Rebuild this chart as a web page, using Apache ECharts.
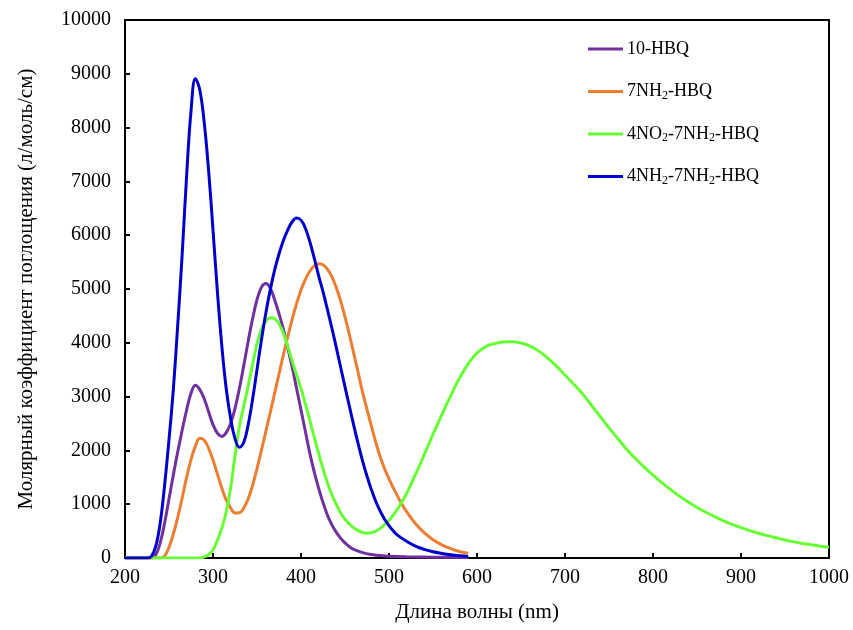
<!DOCTYPE html>
<html>
<head>
<meta charset="utf-8">
<script src="https://cdn.jsdelivr.net/npm/echarts@6/dist/echarts.min.js"></script>
<style>
html,body{margin:0;padding:0;background:#fff;}
#chart{width:853px;height:630px;}
</style>
</head>
<body>
<div id="chart"></div>
<script>
// ---- Data ----
const seriesNames = ['10-HBQ', '7NH\u2082-HBQ', '4NO\u2082-7NH\u2082-HBQ', '4NH\u2082-7NH\u2082-HBQ'];

const hbqX = [200,225,230,235,240,245,250,255,260,265,270,275,280,285,290,295,300,305,310,315,320,325,330,335,340,345,350,355,360,365,370,375,380,385,390,395,400,405,410,415,420,425,430,435,440,445,450,455,460,470,480,490,500,520,550,590];
const hbqY = [0,0,0,60,280,650,1100,1550,1980,2380,2750,3060,3210,3130,2960,2720,2480,2320,2260,2330,2500,2780,3150,3580,4030,4450,4800,5030,5100,5020,4800,4540,4250,3900,3550,3150,2750,2350,1950,1600,1300,1030,800,620,480,370,280,210,160,100,65,45,32,22,15,10];

const nh2X = [200,240,245,250,255,260,265,270,275,280,285,290,295,300,305,310,315,320,325,330,335,340,345,350,355,360,365,370,375,380,385,390,395,400,405,410,415,420,425,430,435,440,445,450,455,460,465,470,475,480,485,490,495,500,505,510,515,520,530,540,550,560,570,580,590];
const nh2Y = [0,0,40,200,450,760,1120,1500,1830,2080,2225,2190,2040,1820,1560,1300,1080,930,835,840,930,1100,1350,1660,2000,2350,2700,3060,3420,3780,4120,4440,4730,4980,5180,5330,5430,5470,5450,5370,5230,5030,4780,4480,4150,3800,3440,3080,2760,2450,2150,1880,1660,1470,1300,1140,990,860,640,470,340,245,175,120,87];

const no2X = [200,285,290,295,300,305,310,315,320,325,330,335,340,345,350,355,360,365,370,375,380,385,390,395,400,405,410,415,420,425,430,435,440,445,450,455,460,465,470,475,480,485,490,495,500,505,510,515,520,525,530,535,540,545,550,555,560,565,570,575,580,585,590,595,600,610,620,630,640,650,660,670,680,690,700,710,720,730,740,750,760,770,780,790,800,810,820,830,840,850,860,870,880,890,900,910,920,930,940,950,960,970,980,990,1000];
const no2Y = [0,0,20,60,150,330,550,850,1300,1900,2450,2830,3200,3600,3980,4250,4400,4465,4450,4350,4180,3930,3660,3400,3150,2860,2560,2250,1950,1660,1400,1180,1000,840,720,630,560,510,475,462,470,500,550,620,700,800,920,1050,1200,1370,1550,1730,1920,2110,2300,2480,2660,2840,3010,3180,3340,3480,3610,3720,3810,3930,3985,4015,4020,3995,3940,3850,3720,3570,3400,3230,3050,2840,2630,2420,2220,2020,1850,1690,1540,1400,1270,1150,1040,940,850,770,690,625,565,510,460,415,375,335,300,270,245,220,200];

const nh2nh2X = [200,225,230,235,240,245,250,255,260,265,270,275,280,285,290,295,300,305,310,315,320,325,330,335,340,345,350,355,360,365,370,375,380,385,390,395,400,405,410,415,420,425,430,435,440,445,450,455,460,465,470,475,480,485,490,495,500,505,510,520,530,540,550,560,570,580,590];
const nh2nh2Y = [0,0,30,220,650,1350,2200,3150,4350,5650,7100,8300,8910,8700,8100,7200,6100,4950,3950,3150,2600,2220,2060,2150,2480,2950,3500,4050,4550,4980,5350,5650,5900,6100,6250,6320,6280,6130,5880,5580,5250,4950,4620,4280,3920,3550,3180,2820,2460,2120,1800,1520,1270,1050,870,720,600,500,420,310,220,160,115,85,60,42,30];

const xTicks = {min: 200, max: 1000, interval: 100};
const yTicks = {min: 0, max: 10000, interval: 1000};
const colors = ['#7030A0', '#ED7D31', '#66FF33', '#0000CC'];

function zip(xs, ys) { return xs.map((x, i) => [x, ys[i]]); }
const dataSets = [zip(hbqX, hbqY), zip(nh2X, nh2Y), zip(no2X, no2Y), zip(nh2nh2X, nh2nh2Y)];

const FONT = '"Liberation Serif", "Times New Roman", serif';
const chart = echarts.init(document.getElementById('chart'), null, {renderer: 'canvas'});
chart.setOption({
  animation: false,
  backgroundColor: '#fff',
  color: colors,
  grid: {left: 125, right: 24, top: 20, bottom: 72, show: true, borderColor: '#000', borderWidth: 2, backgroundColor: 'transparent'},
  legend: {
    orient: 'vertical', left: 583, top: 34,
    itemWidth: 35, itemHeight: 3, itemGap: 22.5,
    icon: 'rect',
    data: seriesNames,
    formatter: n => n.replace(/\u2082/g, '{s|2}'),
    textStyle: {
      fontFamily: FONT, fontSize: 18, color: '#000', padding: [0,0,0,-1], lineHeight: 20,
      rich: {s: {fontFamily: FONT, fontSize: 12, color: '#000', verticalAlign: 'bottom', lineHeight: 20, padding: [7,0,0,0]}}
    }
  },
  xAxis: {
    type: 'value', min: xTicks.min, max: xTicks.max, interval: xTicks.interval,
    name: 'Длина волны (nm)', nameLocation: 'middle', nameGap: 44,
    nameTextStyle: {fontFamily: FONT, fontSize: 21, color: '#000'},
    axisLine: {lineStyle: {color: '#000', width: 2}},
    axisTick: {inside: true, length: 5, lineStyle: {color: '#000', width: 2}},
    axisLabel: {fontFamily: FONT, fontSize: 20, color: '#000', margin: 10, formatter: v => String(v)},
    splitLine: {show: false}
  },
  yAxis: {
    type: 'value', min: yTicks.min, max: yTicks.max, interval: yTicks.interval,
    name: 'Молярный коэффициент поглощения (л/моль/см)', nameLocation: 'middle', nameGap: 88,
    nameTextStyle: {fontFamily: FONT, fontSize: 21, color: '#000'},
    axisLine: {lineStyle: {color: '#000', width: 2}},
    axisTick: {inside: true, length: 5, lineStyle: {color: '#000', width: 2}},
    axisLabel: {fontFamily: FONT, fontSize: 20, color: '#000', margin: 14, formatter: v => String(v)},
    splitLine: {show: false}
  },
  series: seriesNames.map((n, i) => ({
    name: n, type: 'line', data: dataSets[i], smooth: 0.4, symbol: 'none',
    lineStyle: {width: 3, color: colors[i]}, itemStyle: {color: colors[i]}, z: 2 + i
  }))
});
</script>
</body>
</html>
